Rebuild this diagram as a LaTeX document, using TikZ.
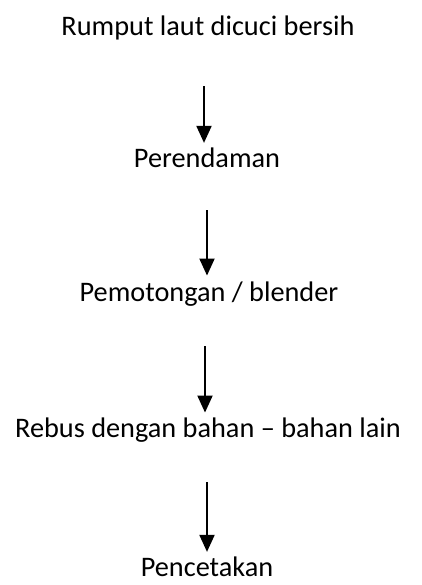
\documentclass[tikz,border=0pt]{standalone}
\usepackage{fontspec}
\setmainfont{Carlito}
\usetikzlibrary{arrows.meta}
\tikzset{
  langkah/.style={font=\fontsize{28.3}{32}\selectfont, inner sep=0pt},
  panah/.style={-{Triangle[width=15pt,length=17pt]}, line width=2pt}
}
\begin{document}
\begin{tikzpicture}[x=1pt,y=1pt]
            \useasboundingbox (0,0) rectangle (421,-585);
            \node[langkah] (cuci) at (208,-28) {Rumput laut dicuci bersih};
            \node[langkah] (rendam) at (207,-158) {Perendaman};
            \node[langkah] (potong) at (209,-294) {Pemotongan / blender};
            \node[langkah] (rebus) at (208,-430) {Rebus dengan bahan -- bahan lain};
            \node[langkah] (cetak) at (207,-567) {Pencetakan};

            \draw[panah, shorten <=46pt, shorten >=5pt] (cuci.south -| 204,0) to (rendam.north -| 204,0);
            \draw[panah, shorten <=42pt, shorten >=6pt] (rendam.south -| 207,0) to (potong.north -| 207,0);
            \draw[panah, shorten <=40pt, shorten >=5pt] (potong.south -| 205,0) to (rebus.north -| 205,0);
            \draw[panah, shorten <=40pt, shorten >=5pt] (rebus.south -| 207,0) to (cetak.north -| 207,0);
        \end{tikzpicture}
\end{document}
